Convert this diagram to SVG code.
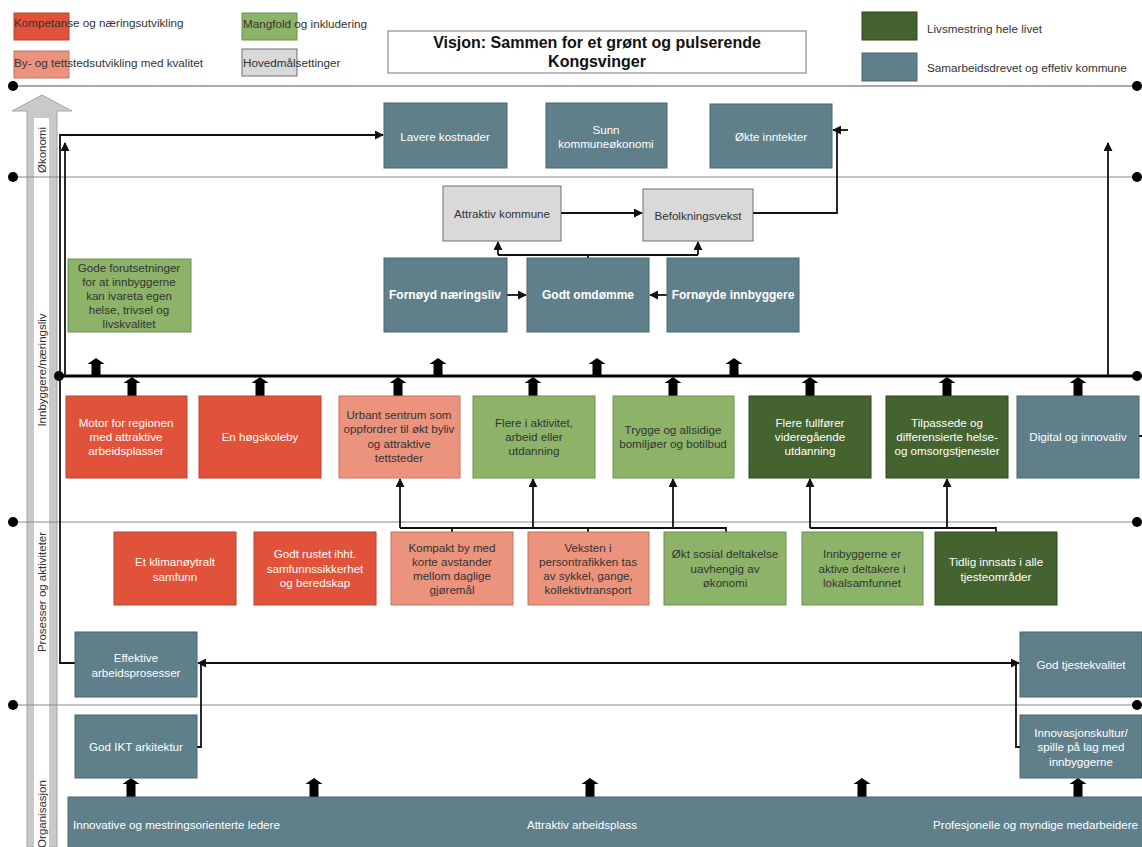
<svg xmlns="http://www.w3.org/2000/svg" xmlns:xlink="http://www.w3.org/1999/xlink" width="1142" height="847" viewBox="0 0 1142 847">
<defs>
<style>
text{font-family:"Liberation Sans",Arial,sans-serif;font-size:11.6px;}
.c{text-anchor:middle;dominant-baseline:central;}
.w{fill:#ffffff;}
.d{fill:#333333;}
.b{font-weight:bold;font-size:12px;}
.lg{font-size:11.7px;}
.red{fill:#E0533A;stroke:#b8442f;stroke-width:1;}
.sal{fill:#EB937D;stroke:#c07462;stroke-width:1;}
.grn{fill:#8CB368;stroke:#6f9050;stroke-width:1;}
.dgr{fill:#44632F;stroke:#2f4620;stroke-width:1;}
.blu{fill:#5F7F8A;stroke:#4a6670;stroke-width:1;}
.gry{fill:#D9D9D9;stroke:#6f6f6f;stroke-width:1;}
.axis{stroke:#8a8a8a;stroke-width:1;fill:none;}
.con{stroke:#111;stroke-width:1.8;fill:none;}
.dot{fill:#000;}
.lbl{font-size:11.5px;fill:#333;}
</style>
<marker id="ah" viewBox="0 0 10 10" refX="9" refY="5" markerWidth="5" markerHeight="5" orient="auto">
<path d="M0,0 L10,5 L0,10 z" fill="#111"/>
</marker>
<path id="blk" d="M0,0 L8.5,6 L4.5,6 L4.5,19 L-4.5,19 L-4.5,6 L-8.5,6 Z" fill="#000"/>
</defs>
<rect width="1142" height="847" fill="#ffffff"/>

<!-- Legend -->
<g id="legend">
<rect x="14" y="13" width="55" height="27" class="red"/>
<text x="14" y="22" class="d lg" dominant-baseline="central">Kompetanse og næringsutvikling</text>
<rect x="14" y="51" width="55" height="27" class="sal"/>
<text x="14" y="62" class="d lg" dominant-baseline="central">By- og tettstedsutvikling med kvalitet</text>
<rect x="242" y="13" width="55" height="27" class="grn"/>
<text x="243" y="23" class="d lg" dominant-baseline="central">Mangfold og inkludering</text>
<rect x="242" y="49" width="55" height="27" class="gry"/>
<text x="243" y="62" class="d lg" dominant-baseline="central">Hovedmålsettinger</text>
<rect x="862" y="12" width="55" height="28" class="dgr"/>
<text x="927" y="28" class="d lg" dominant-baseline="central">Livsmestring hele livet</text>
<rect x="862" y="53" width="55" height="28" class="blu"/>
<text x="927" y="67" class="d lg" dominant-baseline="central">Samarbeidsdrevet og effetiv kommune</text>
</g>

<g id="vision">
<rect x="388" y="31" width="418" height="42" fill="#fff" stroke="#777" stroke-width="1"/>
<text x="597" y="42" class="c" style="font-size:16px;font-weight:bold;fill:#111">Visjon: Sammen for et grønt og pulserende</text>
<text x="597" y="61" class="c" style="font-size:16px;font-weight:bold;fill:#111">Kongsvinger</text>
</g>

<!-- Axis / levels -->
<g id="levels">
<polygon points="42,95 72,111 57,111 57,847 27,847 27,111 12,111" fill="#c9c9c9" stroke="#a5a5a5" stroke-width="1"/>
<rect x="34" y="118" width="15" height="729" fill="#ffffff"/>
<line x1="13" y1="86" x2="1137" y2="86" stroke="#555" stroke-width="1"/>
<line x1="13" y1="177" x2="1137" y2="177" class="axis"/>
<line x1="13" y1="522" x2="1137" y2="522" class="axis"/>
<line x1="13" y1="705" x2="1137" y2="705" class="axis"/>
<circle cx="13" cy="86" r="5" class="dot"/>
<circle cx="1137" cy="86" r="5" class="dot"/>
<circle cx="13" cy="177" r="5" class="dot"/>
<circle cx="1137" cy="177" r="5" class="dot"/>
<circle cx="13" cy="522" r="5" class="dot"/>
<circle cx="1137" cy="522" r="5" class="dot"/>
<circle cx="13" cy="705" r="5" class="dot"/>
<circle cx="1137" cy="705" r="5" class="dot"/>
<text transform="translate(42,150) rotate(-90)" class="c lbl">Økonomi</text>
<text transform="translate(42,370) rotate(-90)" class="c lbl">Innbyggere/næringsliv</text>
<text transform="translate(42,592) rotate(-90)" class="c lbl">Prosesser og aktiviteter</text>
<text transform="translate(42,814) rotate(-90)" class="c lbl">Organisasjon</text>
</g>

<!-- Connectors -->
<g id="connectors">
<line x1="59" y1="376" x2="1137" y2="376" stroke="#000" stroke-width="3"/>
<circle cx="59" cy="376" r="5" class="dot"/>
<circle cx="1137" cy="376" r="5" class="dot"/>
<path d="M75,663 H60 V135 H383" class="con" marker-end="url(#ah)"/>
<path d="M65,376 V143" class="con" marker-end="url(#ah)"/>
<path d="M1108,376 V143" class="con" marker-end="url(#ah)"/>
<path d="M753,213 H837 V130 H833" class="con" marker-end="url(#ah)"/>
<path d="M837,130 H848" class="con"/>
<path d="M561,213 H642" class="con" marker-end="url(#ah)"/>
<path d="M507,295 H526" class="con" marker-end="url(#ah)"/>
<path d="M667,295 H650" class="con" marker-end="url(#ah)"/>
<path d="M588,258 V255 M498,255 H698" class="con"/>
<path d="M498,255 V242" class="con" marker-end="url(#ah)"/>
<path d="M698,255 V242" class="con" marker-end="url(#ah)"/>
<path d="M400,528 H726 V532 M452,528 V532 M588,528 V532" class="con"/>
<path d="M400,528 V479" class="con" marker-end="url(#ah)"/>
<path d="M533,528 V479" class="con" marker-end="url(#ah)"/>
<path d="M673,528 V479" class="con" marker-end="url(#ah)"/>
<path d="M810,528 H996 V532" class="con"/>
<path d="M810,528 V479" class="con" marker-end="url(#ah)"/>
<path d="M947,528 V479" class="con" marker-end="url(#ah)"/>
<path d="M1016,663 H198" class="con" marker-end="url(#ah)"/>
<path d="M201,663 H1019" class="con" marker-end="url(#ah)"/>
<path d="M197,747 H201 V663" class="con"/>
<path d="M1020,747 H1016 V663" class="con"/>
<path d="M1139,436 H1142 M1142,664 H1140" class="con"/>
<use xlink:href="#blk" x="96" y="358"/>
<use xlink:href="#blk" x="438" y="358"/>
<use xlink:href="#blk" x="597" y="358"/>
<use xlink:href="#blk" x="734" y="358"/>
<use xlink:href="#blk" x="132" y="377"/>
<use xlink:href="#blk" x="260" y="377"/>
<use xlink:href="#blk" x="398" y="377"/>
<use xlink:href="#blk" x="533" y="377"/>
<use xlink:href="#blk" x="673" y="377"/>
<use xlink:href="#blk" x="810" y="377"/>
<use xlink:href="#blk" x="947" y="377"/>
<use xlink:href="#blk" x="1078" y="377"/>
<use xlink:href="#blk" x="131" y="778"/>
<use xlink:href="#blk" x="314" y="778"/>
<use xlink:href="#blk" x="590" y="778"/>
<use xlink:href="#blk" x="862" y="778"/>
<use xlink:href="#blk" x="1078" y="778"/>
</g>

<!-- Economy row -->
<g id="lavere-kostnader"><rect x="384" y="103" width="123" height="65" class="blu"/><text x="445" y="136" class="c w">Lavere kostnader</text></g>
<g id="sunn-kommuneokonomi"><rect x="546" y="103" width="121" height="65" class="blu"/><text x="606" y="129" class="c w">Sunn</text><text x="606" y="143" class="c w">kommuneøkonomi</text></g>
<g id="okte-inntekter"><rect x="710" y="104" width="122" height="64" class="blu"/><text x="771" y="136" class="c w">Økte inntekter</text></g>

<!-- Main goals -->
<g id="attraktiv-kommune"><rect x="443" y="186" width="118" height="55" class="gry"/><text x="502" y="213" class="c d">Attraktiv kommune</text></g>
<g id="befolkningsvekst"><rect x="643" y="189" width="110" height="52" class="gry"/><text x="698" y="215" class="c d">Befolkningsvekst</text></g>
<g id="fornoyd-naeringsliv"><rect x="384" y="258" width="123" height="74" class="blu"/><text x="445" y="295" class="c w b">Fornøyd næringsliv</text></g>
<g id="godt-omdomme"><rect x="527" y="258" width="122" height="74" class="blu"/><text x="588" y="295" class="c w b">Godt omdømme</text></g>
<g id="fornoyde-innbyggere"><rect x="667" y="258" width="132" height="74" class="blu"/><text x="733" y="295" class="c w b">Fornøyde innbyggere</text></g>
<g id="gode-forutsetninger"><rect x="68" y="259" width="123" height="73" class="grn"/>
<text x="129" y="267" class="c d">Gode forutsetninger</text><text x="129" y="281" class="c d">for at innbyggerne</text><text x="129" y="295" class="c d">kan ivareta egen</text><text x="129" y="309" class="c d">helse, trivsel og</text><text x="129" y="323" class="c d">livskvalitet</text></g>

<!-- Row 1 -->
<g id="motor-for-regionen"><rect x="66" y="396" width="121" height="82" class="red"/><text x="126" y="422" class="c w">Motor for regionen</text><text x="126" y="436" class="c w">med attraktive</text><text x="126" y="450" class="c w">arbeidsplasser</text></g>
<g id="en-hogskoleby"><rect x="199" y="396" width="122" height="82" class="red"/><text x="260" y="436" class="c w">En høgskoleby</text></g>
<g id="urbant-sentrum"><rect x="339" y="396" width="121" height="82" class="sal"/><text x="399" y="414" class="c d">Urbant sentrum som</text><text x="399" y="428" class="c d">oppfordrer til økt byliv</text><text x="399" y="443" class="c d">og attraktive</text><text x="399" y="457" class="c d">tettsteder</text></g>
<g id="flere-i-aktivitet"><rect x="473" y="396" width="122" height="82" class="grn"/><text x="534" y="422" class="c d">Flere i aktivitet,</text><text x="534" y="436" class="c d">arbeid eller</text><text x="534" y="450" class="c d">utdanning</text></g>
<g id="trygge-bomiljoer"><rect x="613" y="396" width="121" height="82" class="grn"/><text x="673" y="429" class="c d">Trygge og allsidige</text><text x="673" y="443" class="c d">bomiljøer og botilbud</text></g>
<g id="flere-fullforer"><rect x="749" y="396" width="122" height="82" class="dgr"/><text x="810" y="422" class="c w">Flere fullfører</text><text x="810" y="436" class="c w">videregående</text><text x="810" y="450" class="c w">utdanning</text></g>
<g id="tilpassede-tjenester"><rect x="886" y="396" width="122" height="82" class="dgr"/><text x="947" y="422" class="c w">Tilpassede og</text><text x="947" y="436" class="c w">differensierte helse-</text><text x="947" y="450" class="c w">og omsorgstjenester</text></g>
<g id="digital-og-innovativ"><rect x="1017" y="396" width="122" height="82" class="blu"/><text x="1078" y="436" class="c w">Digital og innovativ</text></g>

<!-- Row 2 -->
<g id="klimanoytralt"><rect x="114" y="532" width="122" height="73" class="red"/><text x="175" y="561" class="c w">Et klimanøytralt</text><text x="175" y="576" class="c w">samfunn</text></g>
<g id="godt-rustet"><rect x="254" y="532" width="122" height="73" class="red"/><text x="315" y="553" class="c w">Godt rustet ihht.</text><text x="315" y="568" class="c w">samfunnssikkerhet</text><text x="315" y="582" class="c w">og beredskap</text></g>
<g id="kompakt-by"><rect x="391" y="532" width="122" height="73" class="sal"/><text x="452" y="547" class="c d">Kompakt by med</text><text x="452" y="561" class="c d">korte avstander</text><text x="452" y="575" class="c d">mellom daglige</text><text x="452" y="589" class="c d">gjøremål</text></g>
<g id="veksten-persontrafikken"><rect x="528" y="532" width="121" height="73" class="sal"/><text x="588" y="547" class="c d">Veksten i</text><text x="588" y="561" class="c d">persontrafikken tas</text><text x="588" y="575" class="c d">av sykkel, gange,</text><text x="588" y="589" class="c d">kollektivtransport</text></g>
<g id="okt-sosial-deltakelse"><rect x="664" y="532" width="122" height="73" class="grn"/><text x="725" y="553" class="c d">Økt sosial deltakelse</text><text x="725" y="568" class="c d">uavhengig av</text><text x="725" y="582" class="c d">økonomi</text></g>
<g id="innbyggerne-aktive"><rect x="802" y="532" width="121" height="73" class="grn"/><text x="862" y="553" class="c d">Innbyggerne er</text><text x="862" y="568" class="c d">aktive deltakere i</text><text x="862" y="582" class="c d">lokalsamfunnet</text></g>
<g id="tidlig-innsats"><rect x="935" y="532" width="122" height="73" class="dgr"/><text x="996" y="561" class="c w">Tidlig innsats i alle</text><text x="996" y="576" class="c w">tjesteområder</text></g>

<!-- Row 3 -->
<g id="effektive-arbeidsprosesser"><rect x="75" y="632" width="122" height="65" class="blu"/><text x="136" y="657" class="c w">Effektive</text><text x="136" y="672" class="c w">arbeidsprosesser</text></g>
<g id="god-ikt-arkitektur"><rect x="75" y="715" width="122" height="63" class="blu"/><text x="136" y="746" class="c w">God IKT arkitektur</text></g>
<g id="god-tjestekvalitet"><rect x="1020" y="632" width="122" height="65" class="blu"/><text x="1081" y="664" class="c w">God tjestekvalitet</text></g>
<g id="innovasjonskultur"><rect x="1020" y="715" width="122" height="63" class="blu"/><text x="1081" y="732" class="c w">Innovasjonskultur/</text><text x="1081" y="746" class="c w">spille på lag med</text><text x="1081" y="761" class="c w">innbyggerne</text></g>

<!-- Bottom bar -->
<g id="organisasjon-bar"><rect x="68" y="797" width="1076" height="52" class="blu"/>
<text x="73" y="824" class="w" dominant-baseline="central">Innovative og mestringsorienterte ledere</text>
<text x="582" y="824" class="c w">Attraktiv arbeidsplass</text>
<text x="1138" y="824" class="w" text-anchor="end" dominant-baseline="central">Profesjonelle og myndige medarbeidere</text>
</g>
</svg>
